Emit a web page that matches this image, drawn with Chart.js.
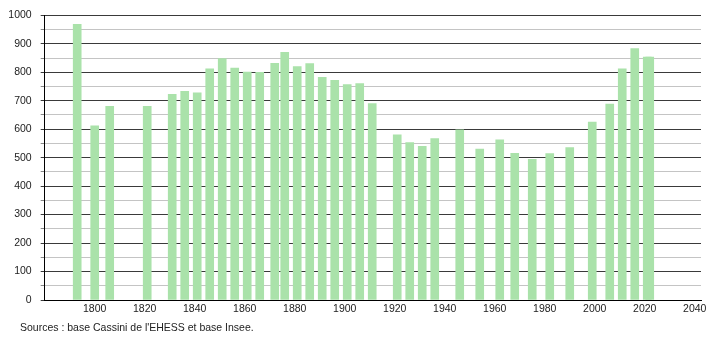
<!DOCTYPE html>
<html>
<head>
<meta charset="utf-8">
<script src="https://cdn.jsdelivr.net/npm/chart.js@4/dist/chart.umd.min.js"></script>
<style>
  html, body { margin: 0; padding: 0; background: #fff; }
  #wrap { position: relative; width: 710px; height: 340px; }
  #source {
    position: absolute; left: 20px; top: 321px;
    font: 10.5px "Liberation Sans", Arial, sans-serif; color: #222;
  }
</style>
</head>
<body>
<div id="wrap">
  <canvas id="popChart" width="710" height="340"></canvas>
  <div id="source">Sources : base Cassini de l'EHESS et base Insee.</div>
</div>
<script>
// Census years and population
const years = [1793, 1800, 1806, 1821, 1831, 1836, 1841, 1846, 1851, 1856,
               1861, 1866, 1872, 1876, 1881, 1886, 1891, 1896, 1901, 1906,
               1911, 1921, 1926, 1931, 1936, 1946, 1954, 1962, 1968, 1975,
               1982, 1990, 1999, 2006, 2011, 2016, 2021, 2022];
const population = [968, 612, 680, 680, 722, 733, 728, 812, 848, 815,
                    801, 800, 831, 870, 820, 830, 782, 772, 757, 760,
                    690, 580, 553, 540, 567, 598, 530, 563, 515, 494,
                    514, 535, 625, 688, 812, 883, 853, 853];
const yearTicks = [1800, 1820, 1840, 1860, 1880, 1900, 1920, 1940, 1960, 1980, 2000, 2020, 2040];

const font = { family: '"Liberation Sans", Arial, sans-serif', size: 10.5 };

const isMajor = c => Math.round(c.tick.value) % 100 === 0;

document.addEventListener('DOMContentLoaded', function() {
    const ctx = document.getElementById('popChart').getContext('2d');
    new Chart(ctx, {
        type: 'bar',
        data: {
            datasets: [{
                data: years.map((yr, i) => ({ x: yr, y: population[i] })),
                backgroundColor: 'rgb(170, 226, 170)',
                borderWidth: 0,
                barThickness: 8
            }]
        },
        options: {
            responsive: false,
            animation: false,
            layout: { padding: { left: 0, right: 9, top: 10, bottom: 20 } },
            plugins: { legend: { display: false }, tooltip: { enabled: false } },
            scales: {
                x: {
                    type: 'linear',
                    offset: false,
                    min: 1780,
                    max: 2042.5,
                    afterBuildTicks: scale => {
                        scale.ticks = yearTicks.map(v => ({ value: v }));
                    },
                    ticks: {
                        color: '#222',
                        font: font,
                        padding: 3,
                        maxRotation: 0,
                        autoSkip: false,
                        callback: v => String(v)
                    },
                    grid: { display: false, drawTicks: false, tickLength: 0 },
                    border: { display: true, color: '#000', width: 1 },
                    afterFit: scale => { scale.height = 20; }
                },
                y: {
                    min: 0,
                    max: 1000,
                    ticks: {
                        stepSize: 50,
                        count: 21,
                        maxTicksLimit: 50,
                        autoSkip: false,
                        color: '#222',
                        font: font,
                        padding: 9,
                        callback: v => (v % 100 === 0 ? String(v) : ' ')
                    },
                    grid: {
                        color: c => (isMajor(c) ? '#3a3a3a' : '#c4c4c4'),
                        tickColor: c => (isMajor(c) ? '#3a3a3a' : '#888'),
                        tickLength: 4,
                        lineWidth: 1
                    },
                    border: { display: true, color: '#000', width: 1 },
                    afterFit: scale => { scale.width = 44.7; }
                }
            }
        }
    });
});
</script>
</body>
</html>
